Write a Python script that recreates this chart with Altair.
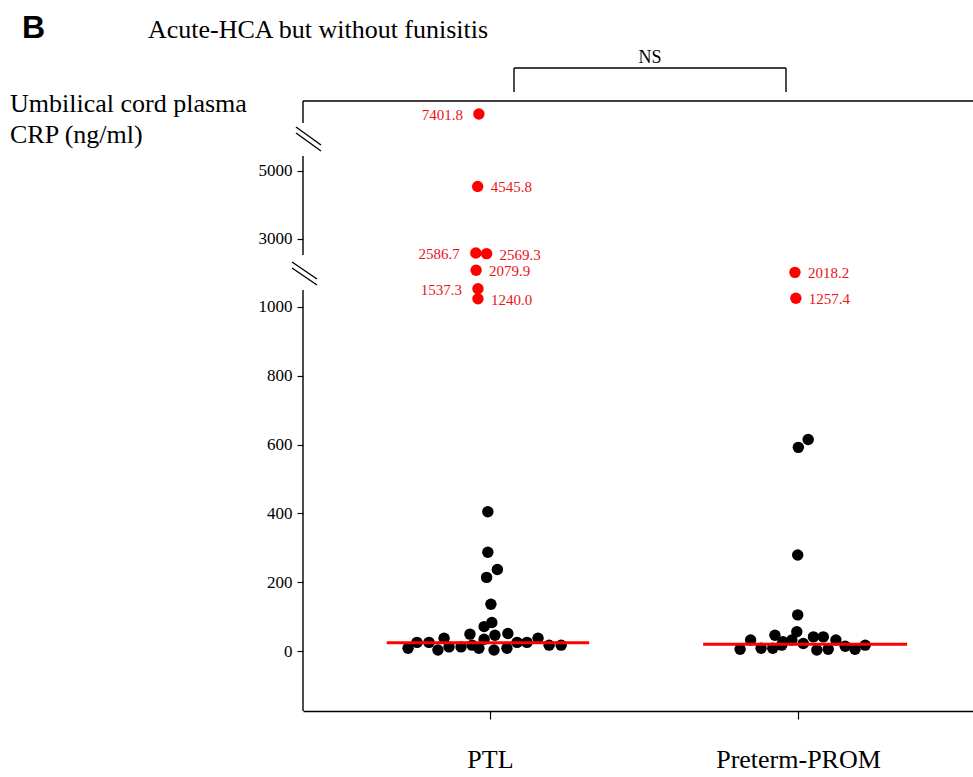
import altair as alt
import pandas as pd

# ---------------- data ----------------
groups = ["PTL", "Preterm-PROM"]

# PTL group: CRP values (ng/ml) and horizontal swarm offsets (group units)
ptl_values = [8, 25, 25, 3, 37, 12, 12, 49, 17, 8, 34, 3, 46, 8, 51, 25, 25, 37, 17, 17,
              71, 83, 136, 214, 237, 287, 405,
              7401.8, 4545.8, 2586.7, 2569.3, 2079.9, 1537.3, 1240.0]
ptl_jitter = [-0.266, -0.237, -0.198, -0.169, -0.149, -0.133, -0.094, -0.065, -0.058, -0.036,
              -0.019, 0.013, 0.016, 0.055, 0.058, 0.088, 0.120, 0.156, 0.192, 0.231,
              -0.019, 0.006, 0.003, -0.011, 0.024, -0.007, -0.007,
              -0.036, -0.040, -0.046, -0.011, -0.045, -0.039, -0.039]
ptl_label_side = {7401.8: "left", 4545.8: "right", 2586.7: "left", 2569.3: "right",
                  2079.9: "right", 1537.3: "left", 1240.0: "right"}

# Preterm-PROM group
prom_values = [5, 32, 8, 8, 46, 17, 27, 32, 56, 22, 41, 3, 41, 5, 32, 14, 5, 17,
               105, 279, 592, 615,
               2018.2, 1257.4]
prom_jitter = [-0.188, -0.154, -0.120, -0.082, -0.075, -0.053, -0.049, -0.020, -0.004, 0.017,
               0.050, 0.061, 0.082, 0.098, 0.123, 0.153, 0.185, 0.218,
               -0.001, -0.001, 0.001, 0.033,
               -0.010, -0.007]
prom_label_side = {2018.2: "right", 1257.4: "right"}

# median lines (value, x-extent relative to group centre)
medians = [24, 19.5]
median_left = [-0.335, -0.308]
median_right = [0.322, 0.354]

y_ticks = [0, 200, 400, 600, 800, 1000, 3000, 5000]
HIGH = 1000  # values above this are highlighted and labelled

# ---------------- broken-axis transform ----------------
BREAK1, RATIO2 = 1000.0, 0.09885
BREAK2, RATIO3 = 6000.0, 0.0476


def to_display(v):
    if v <= BREAK1:
        return v
    if v <= BREAK2:
        return BREAK1 + (v - BREAK1) * RATIO2
    return BREAK1 + (BREAK2 - BREAK1) * RATIO2 + (v - BREAK2) * RATIO3


rows = []
for gi, (vals, jit, sides) in enumerate([(ptl_values, ptl_jitter, ptl_label_side),
                                         (prom_values, prom_jitter, prom_label_side)]):
    for v, j in zip(vals, jit):
        rows.append({"group": groups[gi], "value": v, "x": gi + j, "y": to_display(v),
                     "high": v > HIGH, "label": f"{v:.1f}",
                     "side": sides.get(v, "")})
df = pd.DataFrame(rows)

med_df = pd.DataFrame({"group": groups, "median": medians,
                       "x1": [i + l for i, l in enumerate(median_left)],
                       "x2": [i + r for i, r in enumerate(median_right)],
                       "y": [to_display(m) for m in medians]})

X_DOMAIN = [-0.607, 1.568]
Y_DOMAIN = [-174.4, 1598.8]
W, H = 670, 610

tick_disp = [to_display(t) for t in y_ticks]
expr = "''"
for d, t in reversed(list(zip(tick_disp, y_ticks))):
    expr = f"abs(datum.value - {d:.3f}) < 0.5 ? '{t}' : " + expr
x_expr = "datum.value == 0 ? '%s' : '%s'" % (groups[0], groups[1])

SERIF = "Liberation Serif"

xs = alt.Scale(domain=X_DOMAIN, nice=False, zero=False)
ys = alt.Scale(domain=Y_DOMAIN, nice=False, zero=False)

x_axis = alt.Axis(values=[0, 1], labelExpr=x_expr, title=None, grid=False,
                  domain=True, domainColor="black", domainWidth=1.6,
                  ticks=True, tickSize=8, tickColor="black", tickWidth=1.2,
                  labelFont=SERIF, labelFontSize=26, labelColor="black",
                  labelPadding=27)
y_axis = alt.Axis(values=tick_disp, labelExpr=expr, title=None, grid=False,
                  domain=False, ticks=True, tickSize=6, tickColor="black", tickWidth=1.2,
                  labelFont=SERIF, labelFontSize=17, labelColor="black", labelPadding=5)

base = alt.Chart(df)

black_pts = base.transform_filter("!datum.high").mark_circle(
    size=130, opacity=1, color="black").encode(
    x=alt.X("x:Q", scale=xs, axis=x_axis),
    y=alt.Y("y:Q", scale=ys, axis=y_axis))

red_pts = base.transform_filter("datum.high").mark_circle(
    size=130, opacity=1, color="#ff0000").encode(
    x=alt.X("x:Q", scale=xs), y=alt.Y("y:Q", scale=ys))

lab_right = base.transform_filter("datum.side == 'right'").mark_text(
    align="left", baseline="middle", dx=13, dy=1, font=SERIF, fontSize=15,
    color="#e8141b").encode(x=alt.X("x:Q", scale=xs), y=alt.Y("y:Q", scale=ys),
                            text="label:N")
lab_left = base.transform_filter("datum.side == 'left'").mark_text(
    align="right", baseline="middle", dx=-16, dy=1, font=SERIF, fontSize=15,
    color="#e8141b").encode(x=alt.X("x:Q", scale=xs), y=alt.Y("y:Q", scale=ys),
                            text="label:N")

med = alt.Chart(med_df).mark_rule(color="#ff0000", strokeWidth=3).encode(
    x=alt.X("x1:Q", scale=xs), x2="x2:Q", y=alt.Y("y:Q", scale=ys))

anchor = pd.DataFrame({"a": [0]})


def seg(x1, y1, x2, y2, w=1.4):
    return alt.Chart(anchor).mark_rule(color="black", strokeWidth=w).encode(
        x=alt.value(x1), y=alt.value(y1), x2=alt.value(x2), y2=alt.value(y2))


def txt(s, x, y, size, font=SERIF, weight="normal", align="left", color="black"):
    return alt.Chart(anchor).mark_text(
        text=s, font=font, fontSize=size, fontWeight=weight, align=align,
        baseline="alphabetic", color=color).encode(x=alt.value(x), y=alt.value(y))


decor = [
    seg(0, 0, W, 0, 1.5),          # top frame line
    seg(0, 0, 0, 22),              # left axis, top piece
    seg(0, 55, 0, 154),            # left axis, middle piece
    seg(0, 189, 0, H),             # left axis, bottom piece
    seg(-7, 26, 18, 44), seg(-7, 32, 18, 50),     # upper break marks
    seg(-11, 161, 14, 178), seg(-11, 167, 14, 184),  # lower break marks
    seg(211, -33, 483, -33), seg(211, -33, 211, -9), seg(483, -33, 483, -9),  # bracket
]
texts = [
    txt("B", -281, -63, 32, font="Liberation Sans", weight="bold"),
    txt("Acute-HCA but without funisitis", -155, -63, 26),
    txt("NS", 347, -38, 18, align="center"),
    txt("Umbilical cord plasma", -293, 11, 26),
    txt("CRP (ng/ml)", -293, 42, 26),
]

chart = alt.layer(black_pts, red_pts, med, lab_right, lab_left, *decor, *texts).properties(
    width=W, height=H,
    padding={"left": 303, "top": 101, "right": 0, "bottom": 66},
    autosize=alt.AutoSizeParams(type="none"),
).configure_view(stroke=None)

chart.save("out.html", embed_options={"renderer": "svg", "actions": False})
